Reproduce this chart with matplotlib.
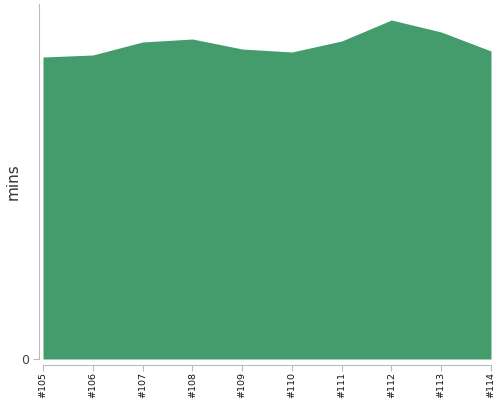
import numpy as np
import matplotlib
matplotlib.use('Agg')
import matplotlib.pyplot as plt

builds = ['#105', '#106', '#107', '#108', '#109', '#110', '#111', '#112', '#113', '#114']
mins = [30.2, 30.4, 31.7, 32.0, 31.0, 30.7, 31.8, 33.9, 32.7, 30.8]

fig = plt.figure(figsize=(5, 4), dpi=100)
ax = fig.add_axes([43 / 500, 1 - 359 / 400, 448 / 500, 355 / 400])

x = np.arange(len(builds))
ax.fill_between(x, 0, mins, color='#449c6c', linewidth=0)

ax.set_xlim(0, len(builds) - 1)
ax.set_ylim(0, 35.5)
ax.set_xticks(x)
ax.set_xticklabels(builds)
ax.set_yticks([0])
ax.set_yticklabels(['0'])

for side in ['top', 'right']:
    ax.spines[side].set_visible(False)
ax.spines['left'].set_position(('outward', 3))
ax.spines['bottom'].set_position(('outward', 4))
for side in ['left', 'bottom']:
    ax.spines[side].set_color('#bbbbbb')
ax.tick_params(axis='both', color='#bbbbbb', length=4)
ax.tick_params(axis='x', labelrotation=90, labelsize=6.8, labelcolor='#111111', pad=1)
ax.tick_params(axis='y', labelsize=9, labelcolor='#444444', pad=3)

ax.set_ylabel('mins', fontsize=11, color='#333333')
ax.yaxis.set_label_coords(-22 / 448, 0.5)

fig.savefig('out.png', dpi=100)
